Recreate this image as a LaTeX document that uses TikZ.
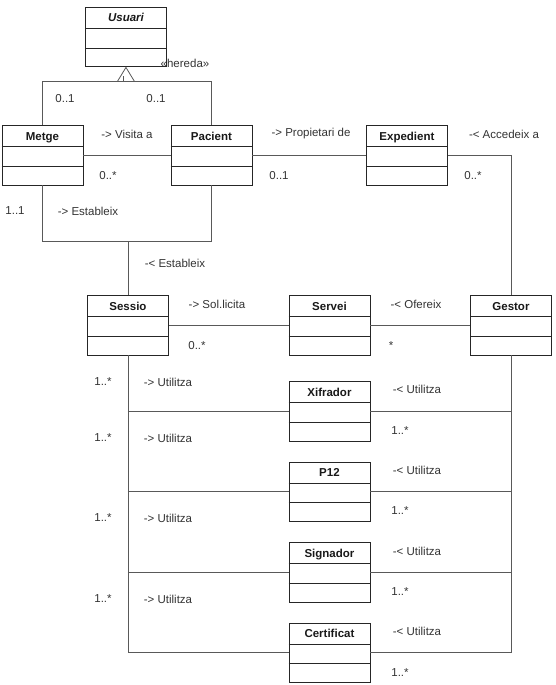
\documentclass[tikz,border=0pt]{standalone}
\usepackage{fontspec}
\setmainfont{Liberation Sans}
\usetikzlibrary{calc}
\tikzset{
  cls/.style={draw=black!85, line width=0.9pt, minimum width=81pt, minimum height=59.5pt, anchor=north west, inner sep=0pt},
  clsline/.style={draw=black!85, line width=0.9pt},
  ttl/.style={font=\fontsize{11.5}{13}\selectfont\bfseries, text=black!90, inner sep=0pt, anchor=base},
  lbl/.style={font=\fontsize{11.5}{13}\selectfont, text=black!80, inner sep=0pt},
  conn/.style={draw=black!65, line width=0.8pt},
}
\newcommand{\umlclass}[5][]{%
  \node[cls] (#2) at (#3,#4) {};
  \node[ttl] (#2-t) at ($(#2.north)+(0,15)$) {#1#5};
  \draw[clsline] ($(#2.north west)+(0,21.5)$) -- ($(#2.north east)+(0,21.5)$);
  \draw[clsline] ($(#2.north west)+(0,41)$) -- ($(#2.north east)+(0,41)$);
}
\begin{document}
\begin{tikzpicture}[x=1pt,y=-1pt]
\useasboundingbox (0,0) rectangle (556,685);
% classes
\umlclass[\itshape]{usuari}{85}{7}{Usuari}
\umlclass{metge}{1.5}{125}{Metge}
\umlclass{pacient}{170.5}{125}{Pacient}
\umlclass{expedient}{366}{125}{Expedient}
\umlclass{sessio}{87}{295}{Sessio}
\umlclass{servei}{288.5}{295}{Servei}
\umlclass{gestor}{470}{295}{Gestor}
\umlclass{xifrador}{288.5}{381}{Xifrador}
\umlclass{p12}{288.5}{461.5}{P12}
\umlclass{signador}{288.5}{542}{Signador}
\umlclass{certificat}{288.5}{622.5}{Certificat}
% inheritance
\coordinate (hinge) at ($(usuari.south)+(0,14)$);
\draw[conn] (metge.north) |- (hinge) -| (pacient.north);
\draw[conn, fill=white] (usuari.south) -- ($(usuari.south)+(-8.5,14)$) -- ($(usuari.south)+(8.5,14)$) -- cycle;
\draw[conn] ($(hinge)+(-2.5,0)$) -- ++(0,-5);
% associations
\draw[conn] ($(metge.north east)+(0,30)$) -- ($(pacient.north west)+(0,30)$);
\draw[conn] ($(pacient.north east)+(0,30)$) -- ($(expedient.north west)+(0,30)$);
\draw[conn] ($(expedient.north east)+(0,30)$) -| (gestor.north);
\coordinate (mp) at ($(metge.south)+(0,56)$);
\draw[conn] (metge.south) -- (mp) -| (pacient.south);
\draw[conn] (sessio.north) -- (sessio.north |- mp);
\draw[conn] ($(sessio.north east)+(0,30)$) -- ($(servei.north west)+(0,30)$);
\draw[conn] ($(servei.north east)+(0,30)$) -- ($(gestor.north west)+(0,30)$);
\coordinate (xl) at ($(xifrador.north west)+(0,30)$);
\coordinate (pl) at ($(p12.north west)+(0,30)$);
\coordinate (sl) at ($(signador.north west)+(0,30)$);
\coordinate (cl) at ($(certificat.north west)+(0,30)$);
\coordinate (xr) at ($(xifrador.north east)+(0,30)$);
\coordinate (pr) at ($(p12.north east)+(0,30)$);
\coordinate (sr) at ($(signador.north east)+(0,30)$);
\coordinate (cr) at ($(certificat.north east)+(0,30)$);
\draw[conn] (sessio.south) |- (cl);
\draw[conn] (sessio.south |- xl) -- (xl);
\draw[conn] (sessio.south |- pl) -- (pl);
\draw[conn] (sessio.south |- sl) -- (sl);
\draw[conn] (gestor.south) |- (cr);
\draw[conn] (gestor.south |- xr) -- (xr);
\draw[conn] (gestor.south |- pr) -- (pr);
\draw[conn] (gestor.south |- sr) -- (sr);
% labels
\node[lbl] (l-hereda) at (185,63) {«hereda»};
\node[lbl] (l-m01) at (65,99) {0..1};
\node[lbl] (l-p01) at (156,99) {0..1};
\node[lbl] (l-visita) at (127,134) {-> Visita a};
\node[lbl] (l-visitam) at (108,176) {0..*};
\node[lbl] (l-11) at (15,211) {1..1};
\node[lbl] (l-est1) at (88,211) {-> Estableix};
\node[lbl] (l-est2) at (175,263) {-< Estableix};
\node[lbl] (l-prop) at (311,134) {-> Propietari de};
\node[lbl] (l-propm) at (279,176) {0..1};
\node[lbl] (l-acc) at (504,134) {-< Accedeix a};
\node[lbl] (l-accm) at (473,176) {0..*};
\node[lbl] (l-sol) at (217,304) {-> Sol.licita};
\node[lbl] (l-solm) at (197,346) {0..*};
\node[lbl] (l-of) at (416,304) {-< Ofereix};
\node[lbl] (l-ofm) at (391,346) {*};
\node[lbl] (l-u1m) at (103,382) {1..*};
\node[lbl] (l-u1) at (168,382) {-> Utilitza};
\node[lbl] (l-u2m) at (103,438) {1..*};
\node[lbl] (l-u2) at (168,438) {-> Utilitza};
\node[lbl] (l-u3m) at (103,518) {1..*};
\node[lbl] (l-u3) at (168,518) {-> Utilitza};
\node[lbl] (l-u4m) at (103,599) {1..*};
\node[lbl] (l-u4) at (168,599) {-> Utilitza};
\node[lbl] (l-r1) at (417,389) {-< Utilitza};
\node[lbl] (l-r1m) at (400,431) {1..*};
\node[lbl] (l-r2) at (417,470) {-< Utilitza};
\node[lbl] (l-r2m) at (400,511) {1..*};
\node[lbl] (l-r3) at (417,551) {-< Utilitza};
\node[lbl] (l-r3m) at (400,592) {1..*};
\node[lbl] (l-r4) at (417,631) {-< Utilitza};
\node[lbl] (l-r4m) at (400,673) {1..*};
\end{tikzpicture}
\end{document}
